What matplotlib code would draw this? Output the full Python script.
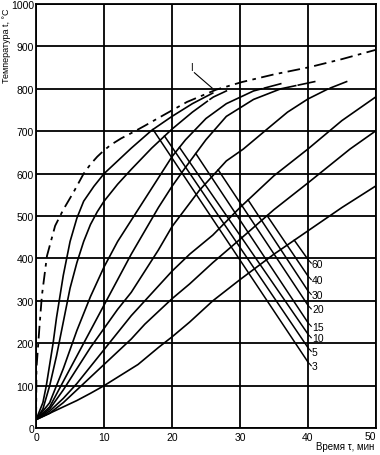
import numpy as np
import matplotlib.pyplot as plt

plt.rcParams['font.family'] = ['Liberation Sans', 'DejaVu Sans']

# furnace temperature (curve I, dash-dot)
furnace_t = [0, 0.05, 0.5, 0.85, 1.6, 2.8, 4, 5.5, 7, 8, 9, 10, 11, 12.5, 14.3, 16, 18.2, 22.2, 26.5, 30.3, 35, 40.2, 45, 50]
furnace_T = [20, 140, 240, 312, 406, 477, 515, 556, 600, 622, 640, 655, 668, 683, 698, 713, 733, 769, 798, 816, 834, 851, 870, 892]

# steel heating curves, labelled by the same numbers as the diagonals
c3_t = [0, 1, 1.5, 2, 2.5, 3, 3.5, 4, 5, 6, 7, 8.5, 10, 12, 14, 17, 20, 23, 26]
c3_T = [20, 60, 100, 150, 200, 260, 310, 360, 440, 495, 535, 570, 600, 630, 660, 702, 735, 765, 790]
c5_t = [0, 1, 2, 3, 4, 5, 6, 7, 8, 9, 10, 12, 14, 17, 20, 23, 26, 28]
c5_T = [20, 45, 100, 170, 250, 330, 390, 440, 480, 510, 535, 575, 610, 660, 705, 745, 780, 795]
c10_t = [0, 2, 4, 6, 8, 10, 12, 14, 16, 18, 20, 22, 25, 28, 32, 36]
c10_T = [20, 60, 140, 230, 310, 380, 440, 490, 540, 590, 640, 680, 730, 765, 795, 812]
c15_t = [0, 2, 4, 6, 8, 10, 12, 14, 16, 18, 20, 22, 25, 28, 32, 36, 41]
c15_T = [20, 50, 110, 170, 230, 290, 350, 410, 465, 520, 570, 615, 680, 735, 775, 800, 817]
c20_t = [0, 2, 4, 6, 8, 10, 12, 14, 16, 18, 20, 24, 28, 30.5, 34, 37, 40, 43, 45.7]
c20_T = [20, 45, 90, 140, 190, 235, 280, 320, 370, 420, 475, 560, 630, 658, 705, 745, 776, 800, 817]
c30_t = [0, 2, 4, 6, 8, 10, 12, 14, 16, 18, 20, 22.6, 26, 30, 35, 40, 45, 50]
c30_T = [20, 40, 70, 105, 145, 185, 225, 265, 300, 335, 370, 410, 455, 520, 595, 658, 725, 781]
c40_t = [0, 2, 4, 6, 8, 10, 12, 14, 16, 18, 20, 22.6, 26, 30, 35, 40, 46.2, 50]
c40_T = [20, 35, 60, 90, 120, 150, 180, 210, 245, 275, 305, 340, 390, 445, 515, 578, 658, 701]
c60_t = [0, 2, 4, 6, 8, 10, 12, 15, 18, 20, 22.6, 26, 30, 35, 40, 45, 50]
c60_T = [20, 35, 50, 65, 82, 100, 120, 150, 190, 215, 250, 300, 350, 410, 465, 520, 571]

curves = [(c3_t, c3_T), (c5_t, c5_T), (c10_t, c10_T), (c15_t, c15_T),
          (c20_t, c20_T), (c30_t, c30_T), (c40_t, c40_T), (c60_t, c60_T)]
labels = ['3', '5', '10', '15', '20', '30', '40', '60']
# curves whose last piece is drawn as a separate dash
dashed_end = [False, True, True, True, True, False, False, False]
diag_start_t = [17.2, 18.9, 21.1, 23.5, 26.8, 31.2, 34.0, 38.0]
diag_end_T = [156, 190, 222, 249, 290, 324, 359, 398]
diag_end_t = 40

x_ticks = [0, 10, 20, 30, 40, 50]

fig = plt.figure(figsize=(3.8, 4.56), dpi=100)
ax = fig.add_axes([0.095, 0.059, 0.894, 0.930])

ax.set_xlim(0, 50)
ax.set_ylim(0, 1000)
ax.set_xticks(x_ticks)
ax.set_xticklabels([str(v) for v in x_ticks[:-1]] + [''])
ax.set_yticks(range(0, 1001, 100))
ax.grid(True, color='black', linewidth=1.3)
ax.tick_params(length=0, labelsize=7.5)
ax.tick_params(axis='y', pad=1.5)
ax.tick_params(axis='x', pad=3)
for s in ax.spines.values():
    s.set_linewidth(1.3)
# last x label sits against the right edge, as in the scan
ax.text(50, -19, '50', fontsize=7.5, ha='right', va='center')

ax.plot(furnace_t, furnace_T, color='black', lw=1.3, linestyle=(0, (7, 3, 2, 3)))

for (t, T), dend in zip(curves, dashed_end):
    t = np.array(t, float)
    T = np.array(T, float)
    if dend:
        cut = t[-1] - 2.8
        keep = t < cut
        ax.plot(np.append(t[keep], cut), np.append(T[keep], np.interp(cut, t, T)),
                color='black', lw=1.2)
        seg_t = np.linspace(cut + 0.4, t[-1], 6)
        ax.plot(seg_t, np.interp(seg_t, t, T), color='black', lw=1.2)
    else:
        ax.plot(t, T, color='black', lw=1.2)

for lab, t0, T_end, (t, T) in zip(labels, diag_start_t, diag_end_T, curves):
    T0 = np.interp(t0, t, T)
    ax.plot([t0, diag_end_t], [T0, T_end], color='black', lw=1.1)
    ax.plot([diag_end_t + 0.1, diag_end_t + 0.5], [T_end - 2, T_end - 9], color='black', lw=0.8)
    ax.text(diag_end_t + 0.6, T_end - 10, lab, fontsize=7.5, ha='left', va='center')

ax.text(22.9, 851, 'I', fontsize=7, ha='center', va='center')
ax.plot([23.3, 25.9], [838, 802], color='black', lw=0.8)

ax.text(49.8, -42, 'Время τ, мин', fontsize=7, ha='right', va='center')
fig.text(0.004, 0.982, 'Температура t, °C', fontsize=6.5, rotation=90, ha='left', va='top')

fig.savefig('out.png', dpi=100)
